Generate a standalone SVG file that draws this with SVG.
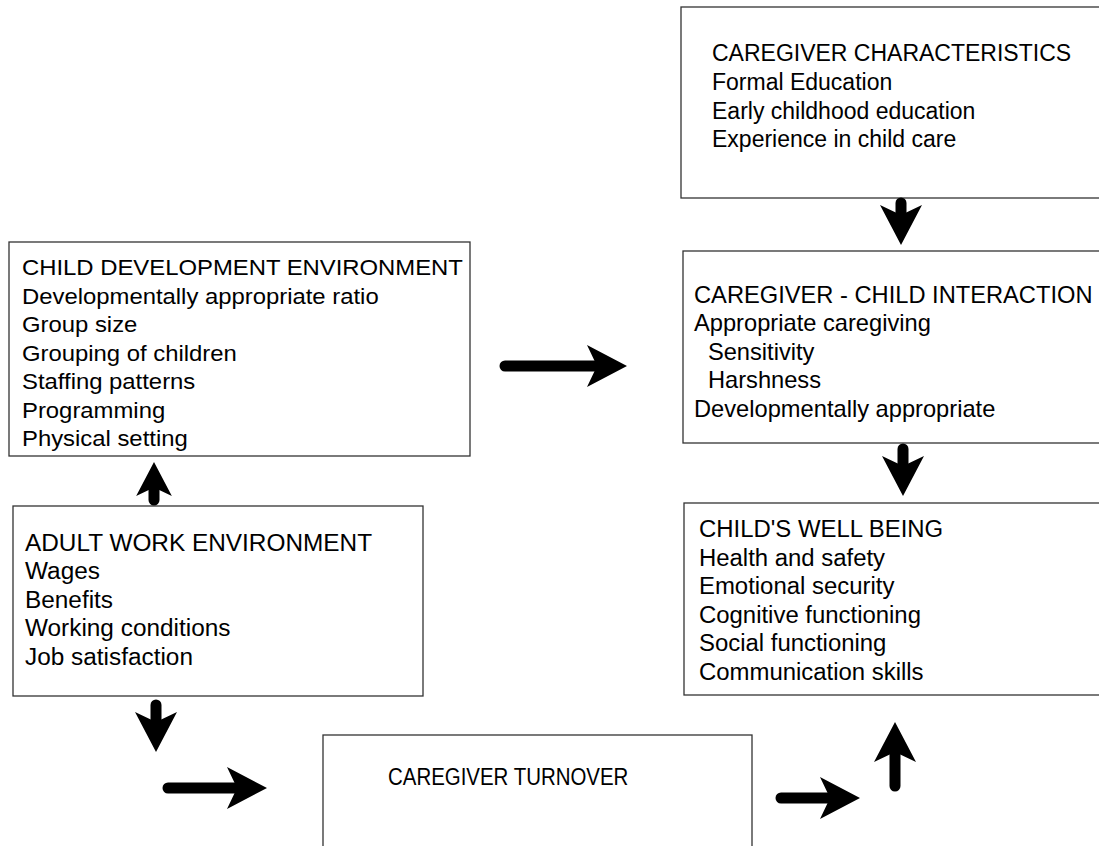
<svg xmlns="http://www.w3.org/2000/svg" xmlns:xlink="http://www.w3.org/1999/xlink" width="1099" height="846" viewBox="0 0 1099 846">
<style>
.box{fill:#fff;stroke:#333;stroke-width:1.3}
.t{font-family:"Liberation Sans",Arial,sans-serif;fill:#000}
.shaft{stroke:#000;stroke-width:11;stroke-linecap:round;fill:none}
.head{fill:#000}
</style>
<defs>
<path id="ah" d="M0,0 L-40,-21 L-30,0 L-40,21 Z"/>
</defs>
<rect width="1099" height="846" fill="#fff"/>
<g id="caregiver-characteristics">
<rect class="box" x="681" y="7" width="425" height="191"/>
<g transform="translate(712 0)"><text class="t" font-size="23"><tspan x="0" y="61">CAREGIVER CHARACTERISTICS</tspan><tspan x="0" y="90">Formal Education</tspan><tspan x="0" y="118.5">Early childhood education</tspan><tspan x="0" y="147">Experience in child care</tspan></text></g>
</g>
<g id="caregiver-child-interaction">
<rect class="box" x="683" y="251" width="425" height="192"/>
<g transform="translate(694 0) scale(1.03 1)"><text class="t" font-size="23"><tspan x="0" y="303">CAREGIVER - CHILD INTERACTION</tspan><tspan x="0" y="331.5">Appropriate caregiving</tspan><tspan x="13.5" y="360">Sensitivity</tspan><tspan x="13.5" y="388.5">Harshness</tspan><tspan x="0" y="417">Developmentally appropriate</tspan></text></g>
</g>
<g id="childs-well-being">
<rect class="box" x="684" y="503" width="425" height="192"/>
<g transform="translate(699 0) scale(1.04 1)"><text class="t" font-size="23"><tspan x="0" y="537">CHILD'S WELL BEING</tspan><tspan x="0" y="565.6">Health and safety</tspan><tspan x="0" y="594.2">Emotional security</tspan><tspan x="0" y="622.8">Cognitive functioning</tspan><tspan x="0" y="651.4">Social functioning</tspan><tspan x="0" y="680">Communication skills</tspan></text></g>
</g>
<g id="child-development-environment">
<rect class="box" x="9" y="242" width="461" height="214"/>
<g transform="translate(22 0) scale(1.085 1)"><text class="t" font-size="22"><tspan x="0" y="275.5">CHILD DEVELOPMENT ENVIRONMENT</tspan><tspan x="0" y="304">Developmentally appropriate ratio</tspan><tspan x="0" y="332.5">Group size</tspan><tspan x="0" y="361">Grouping of children</tspan><tspan x="0" y="389.5">Staffing patterns</tspan><tspan x="0" y="418">Programming</tspan><tspan x="0" y="446.5">Physical setting</tspan></text></g>
</g>
<g id="adult-work-environment">
<rect class="box" x="13" y="506" width="410" height="190"/>
<g transform="translate(25 0) scale(1.06 1)"><text class="t" font-size="23"><tspan x="0" y="551">ADULT WORK ENVIRONMENT</tspan><tspan x="0" y="579.5">Wages</tspan><tspan x="0" y="608">Benefits</tspan><tspan x="0" y="636.5">Working conditions</tspan><tspan x="0" y="665">Job satisfaction</tspan></text></g>
</g>
<g id="caregiver-turnover">
<rect class="box" x="323" y="735" width="429" height="130"/>
<g transform="translate(388 0) scale(0.87 1)"><text class="t" font-size="23.5" x="0" y="785">CAREGIVER TURNOVER</text></g>
</g>
<g id="connectors">
<line class="shaft" x1="901" y1="203" x2="901" y2="225"/>
<use xlink:href="#ah" class="head" transform="translate(901 245) rotate(90)"/>
<line class="shaft" x1="903" y1="449" x2="903" y2="476"/>
<use xlink:href="#ah" class="head" transform="translate(903 496) rotate(90)"/>
<line class="shaft" x1="505" y1="366" x2="600" y2="366"/>
<use xlink:href="#ah" class="head" transform="translate(627 366)"/>
<line class="shaft" x1="154" y1="500" x2="154" y2="485"/>
<use xlink:href="#ah" class="head" transform="translate(154 462) rotate(-90) scale(0.85)"/>
<line class="shaft" x1="156" y1="705" x2="156" y2="730"/>
<use xlink:href="#ah" class="head" transform="translate(156 752) rotate(90)"/>
<line class="shaft" x1="168" y1="788" x2="245" y2="788"/>
<use xlink:href="#ah" class="head" transform="translate(267 788)"/>
<line class="shaft" x1="781" y1="798" x2="840" y2="798"/>
<use xlink:href="#ah" class="head" transform="translate(860 798)"/>
<line class="shaft" x1="895" y1="786" x2="895" y2="748"/>
<use xlink:href="#ah" class="head" transform="translate(895 722) rotate(-90)"/>
</g>
</svg>
